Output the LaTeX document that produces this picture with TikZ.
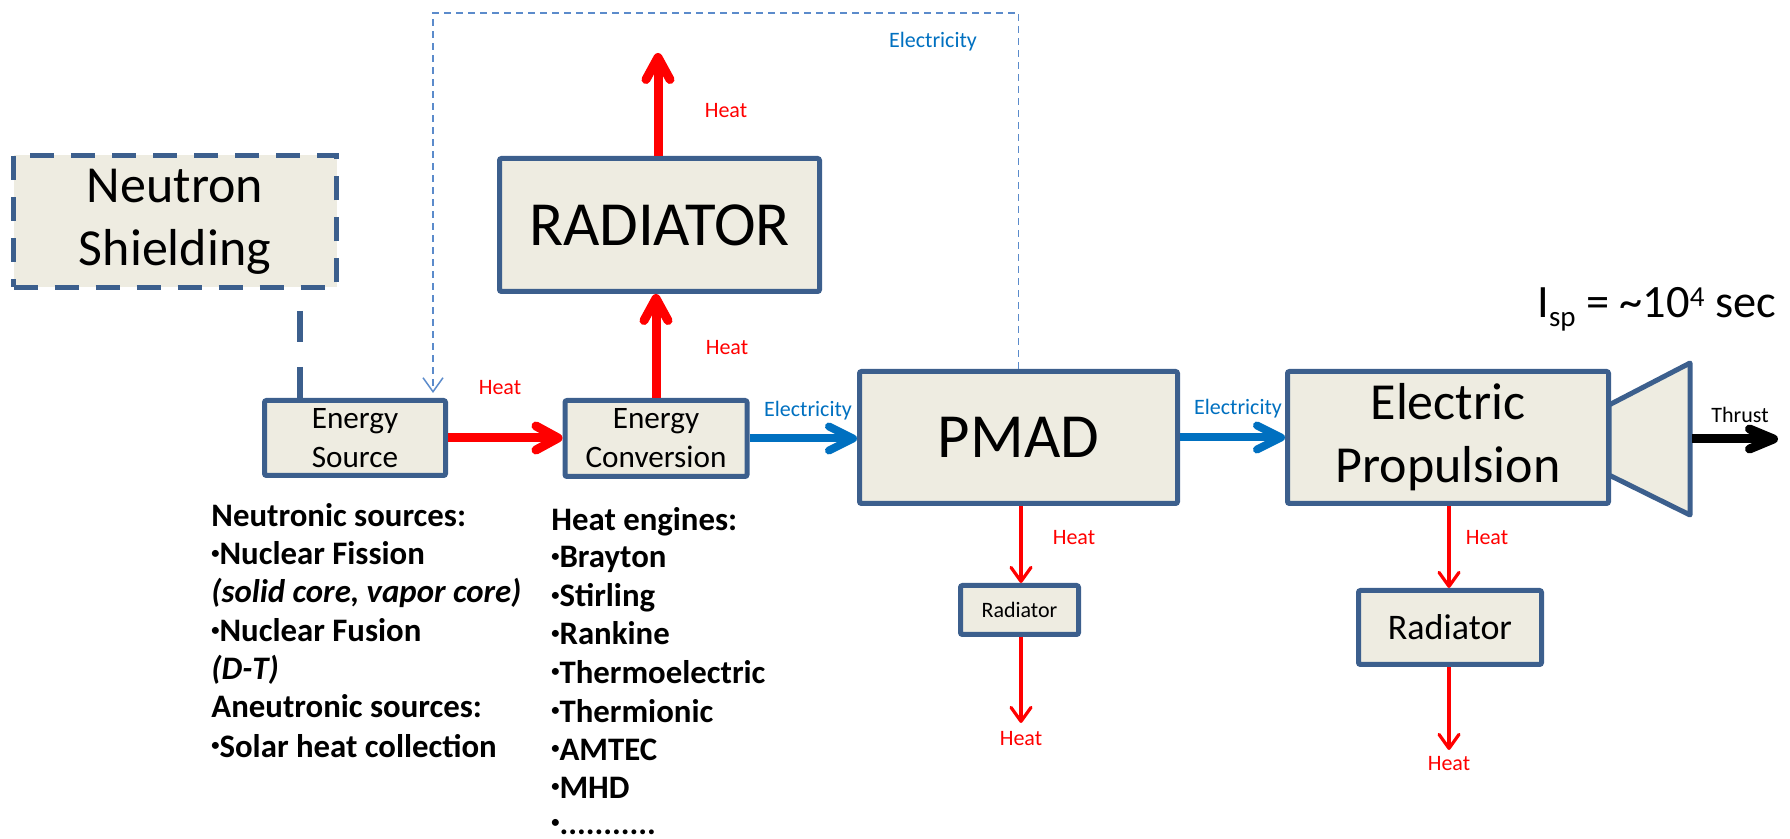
\documentclass[tikz,border=0pt]{standalone}
\usepackage{fontspec}
\setmainfont{Carlito}
\usetikzlibrary{arrows.meta}
\definecolor{bfill}{HTML}{EEECE1}
\definecolor{bdraw}{HTML}{3C5F8D}
\definecolor{elblue}{HTML}{0070C0}
\definecolor{dashblue}{HTML}{5B8BCB}
\definecolor{heatred}{HTML}{FF0000}
\newcommand{\bul}{\raisebox{0.2em}{\scalebox{0.5}{•}}}
\begin{document}
\begin{tikzpicture}[x=0.5pt,y=-0.5pt,
  box/.style={draw=bdraw, fill=bfill, line width=2.5pt, rounded corners=1pt, inner sep=0pt, align=center, text=black},
  dbox/.style={box, rounded corners=0pt, dash pattern=on 12pt off 8.5pt},
  lbl/.style={anchor=base, inner sep=0pt, font=\fontsize{11}{13}\selectfont},
  listtxt/.style={anchor=base west, inner sep=0pt, font=\fontsize{16.4}{19}\selectfont\bfseries},
  thickred/.style={draw=heatred, line width=4.5pt, -{Straight Barb[length=11pt,width=12pt,round]}},
  thinred/.style={draw=heatred, line width=1.6pt, -{Straight Barb[length=7pt,width=10pt,round]}},
  thickblue/.style={draw=elblue, line width=4pt, -{Straight Barb[length=12pt,width=12pt,round]}},
  thrustarrow/.style={draw=black, line width=4.5pt, -{Straight Barb[length=12pt,width=10pt,round]}},
  elline/.style={draw=dashblue, line width=0.75pt, dash pattern=on 3.5pt off 2.5pt, -{Straight Barb[length=7pt,width=10pt]}},
  shieldline/.style={draw=bdraw, line width=3pt, dash pattern=on 15.5pt off 12.5pt, dash phase=17.5pt}
]
\useasboundingbox (0,0) rectangle (1790,839);

% boxes
\node[dbox, minimum width=161.5pt, minimum height=66pt, font=\fontsize{26}{31.5}\selectfont] (shield) at (175,221.5) {Neutron\\Shielding};
\node[box, minimum width=90.5pt, minimum height=37.5pt, font=\fontsize{15.6}{19.5}\selectfont] (src) at (355,438) {Energy\\Source};
\node[box, minimum width=91pt, minimum height=38pt, font=\fontsize{15.6}{19.5}\selectfont] (conv) at (656,438.5) {Energy\\Conversion};
\node[box, minimum width=160pt, minimum height=66.5pt, font=\fontsize{31.4}{36}\selectfont] (rad) at (659.5,225) {RADIATOR};
\node[box, minimum width=159pt, minimum height=66pt, font=\fontsize{31.4}{36}\selectfont] (pmad) at (1018.5,437.5) {PMAD};
\node[box, minimum width=160.5pt, minimum height=66pt, font=\fontsize{26}{31.5}\selectfont] (ep) at (1448,437.5) {Electric\\Propulsion};
\node[box, minimum width=59pt, minimum height=24.5pt, font=\fontsize{11}{13}\selectfont] (rad2) at (1019.5,610) {Radiator};
\node[box, minimum width=91.5pt, minimum height=37pt, font=\fontsize{18}{21}\selectfont] (rad3) at (1450,627.5) {Radiator};

% nozzle
\draw[draw=bdraw, fill=bfill, line width=2.5pt, line join=round] (1609,405) -- (1690,363) -- (1690,515) -- (1609,475) -- cycle;

% free ends
\coordinate (radout) at (658,53);
\coordinate (rad2out) at (1021,723);
\coordinate (rad3out) at (1449,750);
\coordinate (nzr) at (1692,439);
\coordinate (thr) at (1778,439);
\coordinate (eltop) at (433,13);
\coordinate (shx) at (300,0);

% connectors
\draw[shieldline] (shx |- shield.south) -- (shx |- src.north);
\draw[elline, shorten >=2.5pt] (pmad.north) |- (eltop) -- (eltop |- src.north);
\draw[thickred] (src.east) -- (src.east -| conv.west);
\draw[thickred] (conv.north) -- (conv.north |- rad.south);
\draw[thickred] (rad.north -| radout) -- (radout);
\draw[thickblue] (conv.east) -- (conv.east -| pmad.west);
\draw[thickblue] (pmad.east) -- (pmad.east -| ep.west);
\draw[thinred] (pmad.south -| rad2out) -- (rad2.north -| rad2out);
\draw[thinred] (rad2.south -| rad2out) -- (rad2out);
\draw[thinred] (ep.south -| rad3out) -- (rad3.north -| rad3out);
\draw[thinred] (rad3.south -| rad3out) -- (rad3out);
\draw[thrustarrow] (nzr) -- (thr);

% labels
\node[lbl, text=heatred] (h1) at (500,395) {Heat};
\node[lbl, text=heatred] (h2) at (727,355) {Heat};
\node[lbl, text=heatred] (h3) at (726,118) {Heat};
\node[lbl, text=heatred] (h4) at (1074,545) {Heat};
\node[lbl, text=heatred] (h5) at (1021,745) {Heat};
\node[lbl, text=heatred] (h6) at (1487,545) {Heat};
\node[lbl, text=heatred] (h7) at (1449,770) {Heat};
\node[lbl, text=elblue] (e1) at (808,417) {Electricity};
\node[lbl, text=elblue] (e2) at (933,48) {Electricity};
\node[lbl, text=elblue] (e3) at (1238,415) {Electricity};
\node[lbl, text=black] (thrust) at (1740,423) {Thrust};

\node[anchor=base west, inner sep=0pt, font=\fontsize{23.2}{27}\selectfont] (isp) at (1537,318)
  {I\raisebox{-4.5pt}{\fontsize{14.5}{14.5}\selectfont sp} = \textasciitilde10\raisebox{5.5pt}{\fontsize{14.5}{14.5}\selectfont 4} sec};

% lists
\node[listtxt] (l1) at (211,527) {Neutronic sources:};
\node[listtxt] (l2) at (211,565) {\bul Nuclear Fission};
\node[listtxt] (l3) at (211,603) {\itshape (solid core, vapor core)};
\node[listtxt] (l4) at (211,642) {\bul Nuclear Fusion};
\node[listtxt] (l5) at (211,680) {\itshape (D-T)};
\node[listtxt] (l6) at (211,718) {Aneutronic sources:};
\node[listtxt] (l7) at (211,757) {\bul Solar heat collection};

\node[listtxt] (r1) at (551,531) {Heat engines:};
\node[listtxt] (r2) at (551,568) {\bul Brayton};
\node[listtxt] (r3) at (551,607) {\bul Stirling};
\node[listtxt] (r4) at (551,645) {\bul Rankine};
\node[listtxt] (r5) at (551,683) {\bul Thermoelectric};
\node[listtxt] (r6) at (551,722) {\bul Thermionic};
\node[listtxt] (r7) at (551,760) {\bul AMTEC};
\node[listtxt] (r8) at (551,798) {\bul MHD};
\node[listtxt] (r9) at (551,834) {\bul ...........};
\end{tikzpicture}
\end{document}
